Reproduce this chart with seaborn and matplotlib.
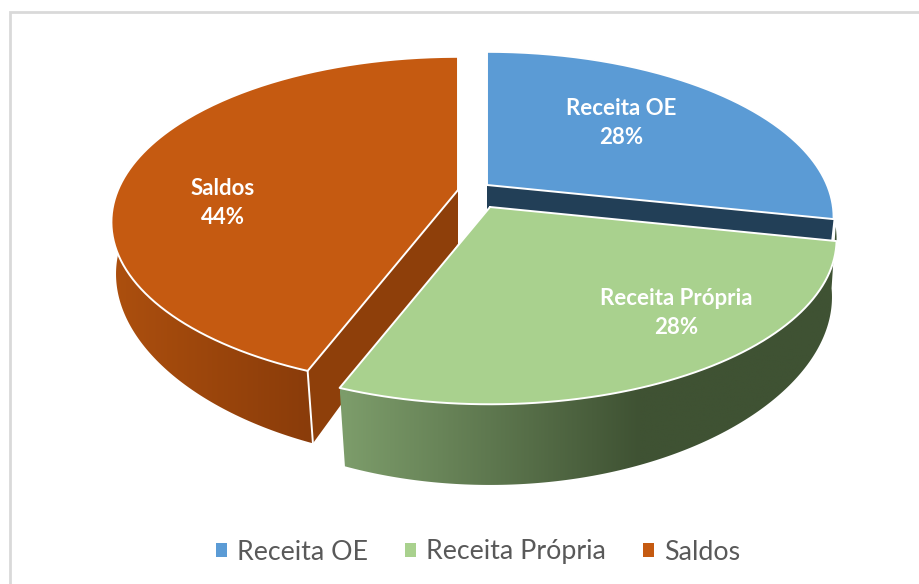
import numpy as np
import matplotlib
matplotlib.use("Agg")
import matplotlib.pyplot as plt
from matplotlib.patches import Patch, Polygon
from matplotlib.colors import ListedColormap
import seaborn as sns

categories = ["Receita OE", "Receita Própria", "Saldos"]
values = [28.3, 27.6, 44.1]
pct_labels = ["28%", "28%", "44%"]

top_colors = ["#5B9BD5", "#A9D18E", "#C55A11"]
cut_colors = ["#223F57", "#3F5233", "#8E3F0A"]
wall_colors = [("#223F57", "#223F57"), ("#7C9C6A", "#3F5233"), ("#AC4F0E", "#8A3C0A")]
grad_span = [(800, 835), (345, 640), (115, 310)]
apex = [(487, 185), (490, 207), (458, 190)]
drop = [42, 60, 54]
label_pos = [(621, 123), (676, 313), (223, 203)]

sns.set_theme(style="white")
plt.rcParams["font.family"] = ["Lato", "DejaVu Sans"]

fig = plt.figure(figsize=(9.2, 5.84), dpi=100)
ax = fig.add_axes([0, 0, 1, 1])
ax.axis("off")

ax.plot([10, 10, 920], [584, 12, 12], color="#D9D9D9", lw=2.0, solid_joinstyle="miter")

K, S, R = 0.194, 159.0, 340.0
KX, KY, S2, R2 = 0.17, 0.22, 170.0, 337.0


def upper(c, th):
    u, v = np.sin(th), np.cos(th)
    w = 1 + K * v
    return c[0] + R * u / w, c[1] - S * v / w


def lower(c, d, th):
    u, v = np.sin(th), np.cos(th)
    return c[0] + R2 * u / (1 + KX * v), c[1] + d - S2 * v / (1 + KY * v)


edges = np.radians(np.concatenate([[0], np.cumsum(values)]) * 3.6)
WHITE = dict(color="white", lw=1.4, solid_capstyle="round")
zo = [2, 6, 4]


def wall(i, th):
    c, d = apex[i], drop[i]
    x0, x1 = grad_span[i]
    ux, uy = upper(c, th)
    lx, ly = lower(c, d, th)
    px = np.r_[ux, lx[::-1]]
    py = np.r_[uy, ly[::-1]]
    xs = np.linspace(px.min(), px.max(), 256)
    ramp = np.clip((xs - x0) / (x1 - x0), 0, 1)
    cmap = ListedColormap(sns.blend_palette(wall_colors[i], 256))
    im = ax.imshow(ramp[None, :], extent=(px.min(), px.max(), py.max(), py.min()),
                   aspect="auto", cmap=cmap, vmin=0, vmax=1, zorder=zo[i], interpolation="bilinear")
    poly = Polygon(np.c_[px, py], closed=True, transform=ax.transData, fc="none", ec="none")
    ax.add_patch(poly)
    im.set_clip_path(poly)


def cut(i, ang):
    c, d = apex[i], drop[i]
    ux, uy = upper(c, np.array([ang]))
    lx, ly = lower(c, d, np.array([ang]))
    ax.fill([c[0], ux[0], lx[0], c[0]], [c[1], uy[0], ly[0], c[1] + d],
            color=cut_colors[i], lw=0, zorder=zo[i])


def top(i):
    c = apex[i]
    th = np.linspace(edges[i], edges[i + 1], 200)
    ux, uy = upper(c, th)
    ax.fill(np.r_[c[0], ux], np.r_[c[1], uy], color=top_colors[i], lw=0, zorder=zo[i] + 0.5)
    ax.plot(np.r_[c[0], ux, c[0]], np.r_[c[1], uy, c[1]], zorder=zo[i] + 0.6, **WHITE)


# Receita OE: only its cut face shows below the top
cut(0, edges[1])
top(0)

# Saldos
th = np.linspace(edges[2], np.radians(300), 120)
wall(2, th)
cut(2, edges[2])
ux, uy = upper(apex[2], th[:1])
lx, ly = lower(apex[2], drop[2], th[:1])
ax.plot([ux[0], lx[0]], [uy[0], ly[0]], zorder=zo[2] + 0.6, **WHITE)
top(2)

# Receita Própria
th = np.linspace(np.radians(97), edges[2], 160)
wall(1, th)
top(1)

for i in range(3):
    ax.text(label_pos[i][0], label_pos[i][1], f"{categories[i]}\n{pct_labels[i]}",
            color="white", fontsize=16, fontweight="bold", ha="center", va="center",
            linespacing=1.5, zorder=10)

ax.set_xlim(0, 920)
ax.set_ylim(584, 0)

handles = [Patch(facecolor=c, edgecolor="none", label=n) for c, n in zip(top_colors, categories)]
leg = ax.legend(handles=handles, ncol=3, frameon=False, loc="center",
                bbox_to_anchor=(478 / 920, 1 - 552 / 584), fontsize=19.3,
                labelcolor="#595959", handlelength=0.41, handleheight=0.41,
                handletextpad=0.38, columnspacing=1.38, borderpad=0)

fig.savefig("out.png", dpi=100)
